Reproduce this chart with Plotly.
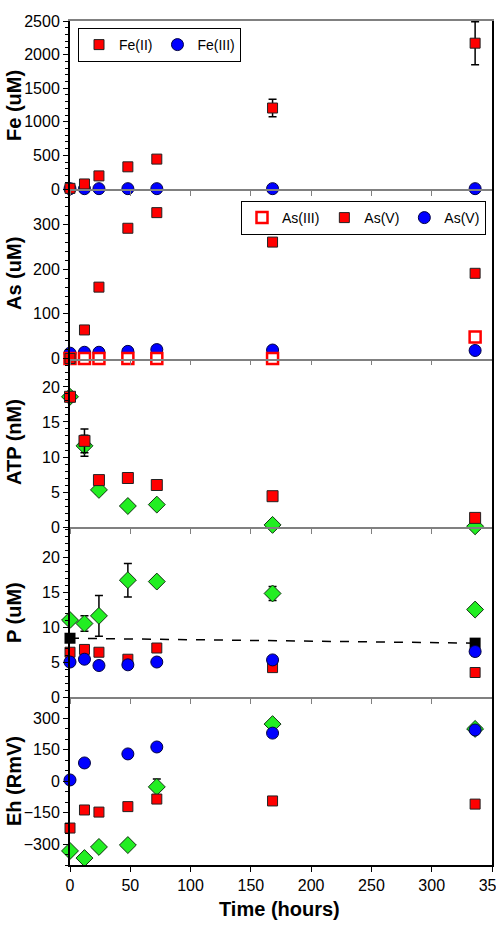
import plotly.graph_objects as go

# ---------------- data ----------------
time = [0, 12, 24, 48, 72, 168, 336]

fe2 = [10, 75, 195, 330, 445, 1205, 2170]
fe2_err = [0, 0, 0, 0, 0, 130, 320]
fe3 = [5, 5, 5, 5, 5, 5, 5]

as3 = [0, 0, 0, 0, 0, 0, 48]
as5 = [0, 64, 160, 292, 327, 261, 191]
as5_blue = [12, 14, 14, 16, 20, 19, 18]

atp_red = [18.6, 12.3, 6.7, 7.0, 6.0, 4.4, 1.3]
atp_red_err = [0, 1.7, 0, 0, 0, 0, 0]
atp_green = [18.6, 11.6, 5.3, 3.0, 3.2, 0.3, 0.1]
atp_green_err = [0, 1.5, 0.6, 0, 0, 0, 0]

p_green = [11.0, 10.5, 11.6, 16.7, 16.5, 14.8, 12.5]
p_green_err = [0, 1.1, 2.9, 2.4, 0.5, 1.0, 0.4]
p_red = [6.4, 6.8, 6.4, 5.4, 7.0, 4.2, 3.5]
p_blue = [5.0, 5.4, 4.5, 4.6, 5.0, 5.3, 6.5]
p_blue_err = [0, 0, 0, 0, 0, 0, 0.6]
p_black_time = [0, 336]
p_black = [8.4, 7.7]

eh_blue = [5, 86, None, 129, 162, 228, 243]
eh_red = [-224, -138, -148, -122, -86, -95, -110]
eh_green = [-333, -367, -314, -305, -28, 271, 248]
eh_green_err = [0, 0, 0, 0, 38, 0, 0]

x_ticks = [0, 50, 100, 150, 200, 250, 300, 350]
y_titles = ["Fe (uM)", "As (uM)", "ATP (nM)", "P (uM)", "Eh (RmV)"]

# ---------------- styles ----------------
RED = "#ff0000"
BLUE = "#0000ff"
GREEN = "#22ee22"
FONT = "Arial, Liberation Sans, sans-serif"


def red_sq(size=10):
    return dict(symbol="square", size=size, color=RED, line=dict(color="#222222", width=1))


def blue_ci(size=12):
    return dict(symbol="circle", size=size, color=BLUE, line=dict(color="#000044", width=1))


def green_di(size=13):
    return dict(symbol="diamond", size=size, color=GREEN, line=dict(color="#113311", width=1))


def err(arr):
    return dict(type="data", array=arr, visible=True, color="black", thickness=1.5, width=4)


fig = go.Figure()

# Fe panel (axis 1)
fig.add_trace(go.Scatter(x=time, y=fe3, mode="markers", name="Fe(III)", marker=blue_ci(),
                         xaxis="x", yaxis="y", legend="legend", legendrank=2, cliponaxis=False))
fig.add_trace(go.Scatter(x=time, y=fe2, mode="markers", name="Fe(II)", marker=red_sq(),
                         error_y=err(fe2_err), xaxis="x", yaxis="y", legend="legend",
                         legendrank=1, cliponaxis=False))

# As panel (axis 2)
fig.add_trace(go.Scatter(x=time, y=as5_blue, mode="markers", name="As(V)", marker=blue_ci(),
                         xaxis="x2", yaxis="y2", legend="legend2", legendrank=3, cliponaxis=False))
fig.add_trace(go.Scatter(x=time, y=as3, mode="markers", name="As(III)",
                         marker=dict(symbol="square", size=11, color="white",
                                     line=dict(color=RED, width=2.5)),
                         xaxis="x2", yaxis="y2", legend="legend2", legendrank=1, cliponaxis=False))
fig.add_trace(go.Scatter(x=time, y=as5, mode="markers", name="As(V)", marker=red_sq(),
                         xaxis="x2", yaxis="y2", legend="legend2", legendrank=2, cliponaxis=False))

# ATP panel (axis 3)
fig.add_trace(go.Scatter(x=time, y=atp_green, mode="markers", marker=green_di(),
                         error_y=err(atp_green_err), xaxis="x3", yaxis="y3",
                         showlegend=False, cliponaxis=False))
fig.add_trace(go.Scatter(x=time, y=atp_red, mode="markers", marker=red_sq(11),
                         error_y=err(atp_red_err), xaxis="x3", yaxis="y3",
                         showlegend=False, cliponaxis=False))

# P panel (axis 4)
fig.add_trace(go.Scatter(x=p_black_time, y=p_black, mode="lines+markers",
                         line=dict(color="black", dash="dash", width=1.5),
                         marker=dict(symbol="square", size=11, color="black"),
                         xaxis="x4", yaxis="y4", showlegend=False, cliponaxis=False))
fig.add_trace(go.Scatter(x=time, y=p_green, mode="markers", marker=green_di(),
                         error_y=err(p_green_err), xaxis="x4", yaxis="y4",
                         showlegend=False, cliponaxis=False))
fig.add_trace(go.Scatter(x=time, y=p_red, mode="markers", marker=red_sq(),
                         xaxis="x4", yaxis="y4", showlegend=False, cliponaxis=False))
fig.add_trace(go.Scatter(x=time, y=p_blue, mode="markers", marker=blue_ci(),
                         error_y=err(p_blue_err), xaxis="x4", yaxis="y4",
                         showlegend=False, cliponaxis=False))

# Eh panel (axis 5)
fig.add_trace(go.Scatter(x=time, y=eh_green, mode="markers", marker=green_di(),
                         error_y=err(eh_green_err), xaxis="x5", yaxis="y5",
                         showlegend=False, cliponaxis=False))
fig.add_trace(go.Scatter(x=time, y=eh_red, mode="markers", marker=red_sq(),
                         xaxis="x5", yaxis="y5", showlegend=False, cliponaxis=False))
fig.add_trace(go.Scatter(x=time, y=eh_blue, mode="markers", marker=blue_ci(),
                         xaxis="x5", yaxis="y5", showlegend=False, cliponaxis=False))

# ---------------- layout ----------------
H, TOP, BOT = 930, 21, 65
plot_h = H - TOP - BOT


def py(pix):
    return (H - BOT - pix) / plot_h


def px(pix):
    return (pix - 70) / 422


bounds = [21, 189, 358.5, 527, 697, 865]
yranges = [[0, 2500], [0, 380], [0, 24.07], [0, 24.3], [-400, 400]]
ytickvals = [[0, 500, 1000, 1500, 2000, 2500], [0, 100, 200, 300],
             [0, 5, 10, 15, 20], [0, 5, 10, 15, 20], [-300, -150, 0, 150, 300]]
yminor = [100, 20, 1, 1, 50]
ytick0 = [0, 0, 0, 0, -300]

layout = dict(
    width=496, height=H,
    margin=dict(l=70, r=4, t=TOP, b=BOT, autoexpand=False),
    paper_bgcolor="white", plot_bgcolor="white",
    font=dict(family=FONT, size=16, color="black"),
    showlegend=True,
)

for i in range(5):
    sfx = "" if i == 0 else str(i + 1)
    dom = [py(bounds[i + 1]), py(bounds[i])]
    last = i == 4
    layout["xaxis" + sfx] = dict(
        domain=[0, 1], range=[0, 350], anchor="y" + sfx,
        tickmode="array", tickvals=x_ticks,
        showticklabels=last, ticks="outside", ticklen=5,
        tickcolor="black" if last else "#808080",
        showline=True, linecolor="black" if last else "#808080", linewidth=1.5,
        mirror=(i == 0), showgrid=False, zeroline=False,
        tickfont=dict(size=16), ticklabeloverflow="allow",
    )
    layout["yaxis" + sfx] = dict(
        domain=dom, range=yranges[i], anchor="x" + sfx,
        tickmode="array", tickvals=ytickvals[i],
        ticks="outside", ticklen=5, tickcolor="black",
        minor=dict(dtick=yminor[i], tick0=ytick0[i], ticks="outside", ticklen=3, tickcolor="black"),
        showline=True, linecolor="black", linewidth=2, mirror=True,
        showgrid=False, zeroline=False, tickfont=dict(size=16),
    )

layout["legend"] = dict(
    x=px(78), y=py(28), xanchor="left", yanchor="top",
    orientation="h", bgcolor="white", bordercolor="black", borderwidth=1,
    font=dict(size=14), itemwidth=30, traceorder="normal",
)
layout["legend2"] = dict(
    x=px(486), y=py(201), xanchor="right", yanchor="top",
    orientation="h", bgcolor="white", bordercolor="black", borderwidth=1,
    font=dict(size=14), itemwidth=30, traceorder="normal",
)

annotations = []
centers = [105, 273, 442, 612, 781]
for t, c in zip(y_titles, centers):
    annotations.append(dict(
        text="<b>%s</b>" % t, xref="paper", yref="paper",
        x=px(14), y=py(c), xanchor="center", yanchor="middle",
        textangle=-90, showarrow=False, font=dict(size=20, family=FONT),
    ))
annotations.append(dict(
    text="<b>Time (hours)</b>", xref="paper", yref="paper",
    x=px(279), y=py(909), xanchor="center", yanchor="middle",
    showarrow=False, font=dict(size=20, family=FONT),
))
layout["annotations"] = annotations

fig.update_layout(**layout)
fig.write_html("out.html")
